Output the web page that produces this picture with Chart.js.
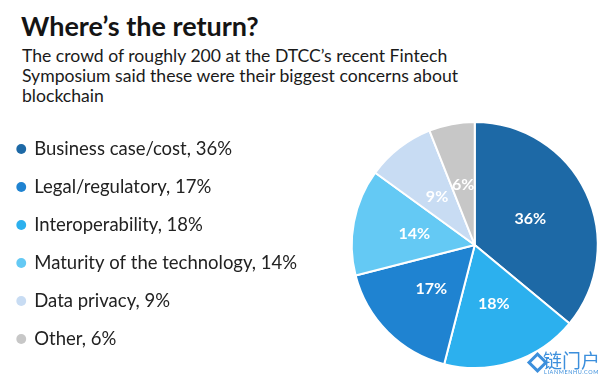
<!DOCTYPE html>
<html>
<head>
<meta charset="utf-8">
<script src="https://cdn.jsdelivr.net/npm/chart.js@4/dist/chart.umd.min.js"></script>
<style>
  html, body { margin:0; padding:0; width:613px; height:382px; overflow:hidden; background:#fff; }
  #title { position:absolute; left:21px; top:8.5px; font-family:Lato, sans-serif; font-weight:700; font-size:27px; line-height:34px; color:#141414; white-space:nowrap; }
  #sub { position:absolute; left:22px; top:46.4px; font-family:Lato, sans-serif; font-size:17.6px; line-height:20px; color:#1a1a1a; white-space:nowrap; }
  #wrap { position:absolute; top:112px; }
  #wm { position:absolute; left:543px; top:349px; font-family:"Noto Sans CJK SC", sans-serif; font-size:19px; line-height:22px; color:#3c8fdc; white-space:nowrap; }
  #wm2 { position:absolute; left:544px; top:369px; font-family:Lato, sans-serif; font-size:5.5px; line-height:6px; color:#3c8fdc; letter-spacing:0.6px; }
  #icon { position:absolute; left:530px; top:355px; width:9px; height:9px; border:3px solid #3c8fdc; transform:rotate(45deg); }
</style>
</head>
<body>
<div id="title">Where’s the return?</div>
<div id="sub">The crowd of roughly 200 at the DTCC’s recent Fintech<br>Symposium said these were their biggest concerns about<br>blockchain</div>
<div id="wrap"><canvas id="c"></canvas></div>
<div id="icon"></div>
<div id="wm">链门户</div>
<div id="wm2">LIANMENHU.COM</div>
<script>
// Slices in clockwise order from 12 o'clock
const categories = ['Business case/cost', 'Interoperability', 'Legal/regulatory', 'Maturity of the technology', 'Data privacy', 'Other'];
const values = [36, 18, 17, 14, 9, 6];
const colors = ['#1d69a6', '#2cb0ee', '#1f83d1', '#64c9f4', '#c8dcf3', '#c7c7c7'];
// Order of the legend entries
const legendOrder = ['Business case/cost', 'Legal/regulatory', 'Interoperability', 'Maturity of the technology', 'Data privacy', 'Other'];

// layout settings
const legendFont = { family: 'Lato, sans-serif', size: 18.5 };
const legendPad = 38 - legendFont.size;
const legendBoxW = 2 * (34 - 21 - legendFont.size / 2);
const canvasLeft = 21 - legendBoxW / 2 - legendPad;
const pieCenterX = 474.5;
const canvasTop = 112, canvasH = 270;
const areaTop = 149 - legendFont.size / 2 - legendPad;   // page coords
const areaBottom = 2 * 245 - areaTop;

function labelText(i) { return categories[i] + ', ' + values[i] + '%'; }

// measure legend width to centre the pie
const mctx = document.createElement('canvas').getContext('2d');
mctx.font = legendFont.size + 'px ' + legendFont.family;
let maxText = 0;
categories.forEach((c, i) => { maxText = Math.max(maxText, mctx.measureText(labelText(i)).width); });
const legendW = legendPad + legendBoxW + legendFont.size / 2 + maxText + 10;
const areaRight = 2 * pieCenterX - (canvasLeft + legendW);
const canvasW = Math.ceil(areaRight - canvasLeft);

const wrap = document.getElementById('wrap');
wrap.style.left = canvasLeft + 'px';
const cv = document.getElementById('c');
cv.width = canvasW; cv.height = canvasH;
cv.style.width = canvasW + 'px'; cv.style.height = canvasH + 'px';

const sliceLabels = {
  id: 'sliceLabels',
  afterDatasetsDraw(chart) {
    const ctx = chart.ctx;
    const meta = chart.getDatasetMeta(0);
    ctx.save();
    ctx.fillStyle = '#ffffff';
    ctx.font = 'bold 16px Lato, sans-serif';
    ctx.textAlign = 'center';
    ctx.textBaseline = 'middle';
    meta.data.forEach((arc, i) => {
      const p = arc.getCenterPoint();
      ctx.fillText(values[i] + '%', p.x, p.y);
    });
    ctx.restore();
  }
};

new Chart(cv, {
  type: 'pie',
  data: {
    labels: categories,
    datasets: [{
      data: values,
      backgroundColor: colors,
      borderColor: '#ffffff',
      borderWidth: 2,
      radius: 123
    }]
  },
  options: {
    responsive: false,
    animation: false,
    devicePixelRatio: 1,
    layout: { padding: { top: areaTop - canvasTop, bottom: canvasTop + canvasH - areaBottom, left: 0, right: canvasLeft + canvasW - areaRight } },
    plugins: {
      tooltip: { enabled: false },
      legend: {
        position: 'left',
        align: 'start',
        labels: {
          usePointStyle: true,
          pointStyle: 'circle',
          boxWidth: legendBoxW,
          boxHeight: 7,
          padding: legendPad,
          color: '#222222',
          font: legendFont,
          generateLabels(chart) {
            const items = Chart.overrides.pie.plugins.legend.labels.generateLabels(chart);
            items.forEach(it => {
              it.text = labelText(it.index);
              it.lineWidth = 0;
              it.strokeStyle = it.fillStyle;
            });
            return items;
          },
          sort(a, b) {
            return legendOrder.indexOf(categories[a.index]) - legendOrder.indexOf(categories[b.index]);
          }
        }
      }
    }
  },
  plugins: [sliceLabels]
});
</script>
</body>
</html>
